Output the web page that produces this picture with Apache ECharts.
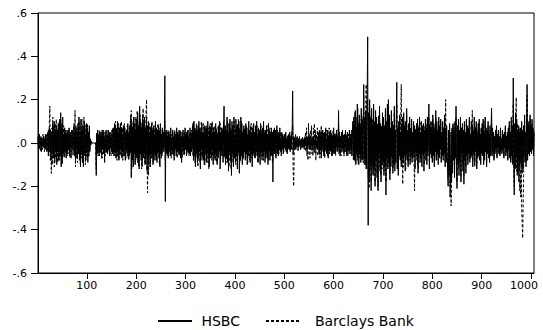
<!DOCTYPE html>
<html><head><meta charset="utf-8">
<script src="https://cdn.jsdelivr.net/npm/echarts@6/dist/echarts.min.js"></script>
<style>html,body{margin:0;padding:0;background:#fff}#c{width:543px;height:330px}#s{position:absolute;left:0;top:0;width:0;height:0;overflow:hidden}</style>
</head><body><div id="c"></div><div id="s"></div>
<script>
var seriesNames = ['HSBC', 'Barclays Bank'];
var xTickStep = 100;   // tick labels 100, 200, ... 1000
var yTicks = [-0.6, -0.4, -0.2, 0, 0.2, 0.4, 0.6];

var hsbc = [
.02,-.03,.01,.04,-.02,-.01,.03,-.04,.02,.00,-.02,.03,-.01,.02,-.03,.04,-.02,.01,-.04,.03,
.05,-.06,.03,.07,-.04,.06,-.08,.02,.04,-.05,.09,-.07,.03,.10,-.09,.05,-.03,.08,-.10,.06,
-.04,.09,-.08,.05,.11,-.06,.14,-.11,.07,-.09,.12,-.05,.03,-.06,.07,-.04,.05,-.07,.02,.06,
-.05,.04,-.03,.07,-.06,.02,.05,-.07,.03,-.02,.06,-.04,.01,.08,-.06,.05,-.08,.07,-.03,.04,
-.07,.09,-.05,.12,-.08,.03,-.10,.11,-.04,.06,-.09,.08,-.11,.05,.10,-.06,.04,-.08,.09,-.03,
.07,-.09,.05,-.06,.08,-.04,.02,-.01,.01,0,0,0,0,0,0,0,0,0,-.15,.04,
-.05,.06,-.03,.04,-.06,.02,.05,-.04,.03,-.07,.06,-.02,.04,-.05,.03,-.09,.05,-.03,.06,-.04,
.02,-.05,.06,-.03,.04,-.06,.05,-.02,.03,-.04,.06,-.05,.02,.07,-.06,.09,-.04,.08,-.07,.05,
-.03,.10,-.06,.04,-.08,.07,-.05,.09,-.02,.06,-.07,.04,-.04,.08,-.06,.03,.07,-.08,.05,-.03,
.06,-.05,.09,-.07,.04,-.06,.08,-.04,.13,-.16,.10,-.08,.07,-.11,.12,-.05,.09,-.10,.06,-.07,
.11,-.06,.14,-.09,.08,-.12,.17,-.05,.10,-.08,.06,-.11,.13,-.07,.09,-.04,.12,-.10,.07,-.06,
.12,-.13,.08,-.09,.10,-.06,.05,-.11,.07,-.04,.09,-.07,.06,-.10,.08,-.05,.04,-.08,.10,-.06,
.07,-.09,.05,-.04,.08,-.07,.06,-.11,.09,-.05,.04,-.06,.07,-.03,.05,-.04,.02,.31,-.27,.05,
-.04,.06,-.05,.03,-.07,.05,-.02,.04,-.06,.07,-.03,.02,-.05,.06,-.04,.03,-.08,.05,-.02,.04,
-.06,.07,-.03,.05,-.04,.02,.06,-.05,.04,-.07,.03,-.09,.05,-.02,.06,-.04,.03,-.05,.07,-.03,
.04,-.06,.05,-.03,.06,-.04,.02,-.05,.07,-.06,.03,-.04,.05,-.02,.09,-.08,.10,-.06,.07,-.11,
.06,-.05,.08,-.09,.04,-.07,.10,-.04,.05,-.12,.07,-.03,.09,-.06,.05,-.08,.04,-.10,.08,-.05,
.06,-.09,.07,-.04,.10,-.06,.03,-.11,.08,-.05,.06,-.07,.09,-.03,.05,-.10,.07,-.06,.04,-.08,
.09,-.05,.06,-.10,.04,-.07,.08,-.03,.10,-.12,.05,-.06,.07,-.04,.06,-.09,.05,.17,-.06,.08,
-.10,.06,-.07,.12,-.09,.05,-.13,.09,-.04,.11,-.08,.06,-.15,.10,-.05,.08,-.11,.12,-.07,.04,
-.09,.11,-.06,.08,-.12,.07,-.04,.10,-.14,.06,-.08,.12,-.05,.09,-.10,.05,-.07,.08,-.04,.06,
-.08,.09,-.05,.07,-.10,.04,-.06,.10,-.03,.06,-.09,.08,-.05,.04,-.11,.07,-.04,.09,-.06,.05,
-.07,.08,-.04,.10,-.06,.03,-.09,.07,-.05,.06,-.10,.09,-.03,.05,-.08,.07,-.06,.10,-.04,.05,
-.09,.06,-.05,.08,-.07,.04,-.10,.09,-.03,.06,-.08,.05,-.06,.07,-.04,.05,-.18,.06,-.05,.07,
-.04,.06,-.07,.03,.08,-.05,.04,-.06,.05,-.03,.07,-.04,.02,-.06,.05,-.03,.04,-.05,.03,-.02,
.04,-.03,.05,-.04,.02,-.05,.03,-.02,.04,-.03,.05,-.04,.02,-.03,.05,.06,.24,-.05,.03,-.02,
.02,-.03,.01,.02,-.01,.03,-.02,.01,-.02,.02,-.01,.01,-.03,.02,-.01,.02,-.02,.01,-.01,.02,
-.02,.03,-.01,.02,-.03,.01,-.02,.02,-.01,.03,-.02,.01,-.03,.02,-.01,.01,-.02,.03,-.01,.02,
-.03,.02,-.01,.03,-.02,.01,-.03,.02,-.02,.04,-.05,.06,-.03,.05,-.07,.04,-.02,.06,-.04,.03,
-.06,.05,-.03,.07,-.04,.02,-.05,.06,-.07,.03,-.02,.05,-.04,.06,-.03,.04,-.06,.02,-.05,.07,
-.03,.04,-.05,.03,-.02,.06,-.04,.03,-.02,.15,-.05,.04,-.06,.03,-.02,.05,-.04,.06,-.03,.02,
-.05,.04,-.02,.06,-.04,.03,-.06,.05,-.03,.02,-.04,.06,-.05,.03,-.02,.04,-.06,.05,.10,-.06,
.12,-.08,.05,.15,-.10,.07,-.04,.18,-.07,.09,-.10,.13,-.05,.08,-.09,.16,-.06,.11,-.08,.09,
.27,-.07,.12,-.10,.15,-.12,.08,.20,.49,-.38,.14,-.18,.20,-.09,.12,-.22,.16,-.11,.08,-.15,
.18,-.12,.10,-.20,.15,-.08,.12,-.16,.07,-.22,.11,-.05,.17,-.13,.09,-.18,.06,-.10,.14,-.08,
.12,-.15,.08,-.11,.16,-.24,.10,-.07,.18,-.12,.20,-.09,.13,-.17,.07,-.11,.15,-.06,.10,-.14,
.08,-.10,.17,-.13,.06,-.09,.12,.28,-.12,.07,-.15,.10,-.06,.13,-.08,.05,-.11,.09,-.07,.12,
-.09,.14,-.06,.08,-.13,.10,-.05,.16,-.08,.06,-.11,.09,-.04,.12,-.10,.07,-.06,.11,-.09,.05,
-.07,.10,-.05,.08,-.12,.06,-.03,.09,-.08,.11,-.14,.07,-.04,.12,-.09,.05,-.06,.10,-.11,.08,
-.05,.09,-.13,.06,-.04,.11,-.08,.07,-.10,.12,-.06,.05,.18,-.12,.08,-.05,.10,-.07,.06,-.09,
.13,-.06,.09,-.11,.07,-.04,.15,-.08,.10,-.05,.06,-.10,.12,-.07,.08,-.03,.11,-.09,.05,-.06,
.10,-.08,.07,-.05,.13,-.11,.06,-.09,.08,-.04,-.12,-.20,.06,-.15,.09,-.25,-.10,.05,-.18,.07,
-.14,.09,-.08,.06,-.16,.10,-.07,.17,-.12,-.21,.08,-.10,.11,-.15,.06,-.09,.12,-.18,.07,-.05,
.09,-.13,.06,-.19,.10,-.08,.05,-.14,.11,-.06,.08,-.10,.07,-.05,.12,-.09,.04,-.07,.10,-.06,
.08,-.11,.06,-.05,.12,-.09,.07,-.04,.10,-.12,.05,-.07,.09,-.06,.11,-.08,.04,-.10,.07,-.05,
.09,-.06,.11,-.10,.05,-.08,.12,-.04,.07,-.11,.06,-.05,.10,-.07,.04,-.09,.08,-.06,.05,.16,
-.06,.07,-.04,.05,-.08,.03,-.05,.06,-.03,.08,-.07,.04,-.02,.06,-.05,.03,-.06,.07,-.04,.02,
-.05,.06,-.03,.04,-.07,.05,-.02,.08,-.06,.03,-.04,.05,-.08,.07,-.03,.10,-.07,.05,-.09,.12,
-.06,.08,-.10,.30,-.08,-.24,.09,-.12,.14,-.07,.11,-.15,.06,-.10,.08,-.13,.05,-.09,.07,-.11,
.10,-.14,.06,-.12,.08,-.06,.13,-.09,.05,-.11,.12,.27,-.08,.10,-.05,.09,-.06,.13,-.04,.08,
-.05,.11,-.03,.07,-.06,.05
];

var barclays = [
.03,-.02,.04,-.03,.01,-.04,.02,.03,-.01,-.03,.04,-.02,.03,-.04,.01,.02,-.03,.04,-.02,.03,
-.04,.06,-.05,.09,.17,-.08,.05,-.14,.07,-.10,.12,-.06,.08,-.11,.04,.09,-.07,.11,-.05,.06,
-.09,.07,-.04,.10,-.08,.05,.11,-.06,.09,-.10,.06,-.04,.08,-.07,.05,-.03,.06,-.05,.04,-.06,
.05,-.03,.06,-.05,.04,-.07,.03,-.04,.06,-.02,.05,-.06,.04,.09,-.05,.15,-.11,.08,-.07,.06,
-.09,.07,-.05,.10,-.06,.08,-.11,.05,-.07,.11,-.04,.06,-.09,.12,-.05,.07,-.10,.08,-.06,.04,
.09,-.07,.05,-.04,.06,-.03,.01,0,0,0,0,0,0,0,0,0,0,0,-.12,.05,
-.04,.05,-.06,.03,-.02,.06,-.05,.04,-.03,.05,-.07,.04,-.03,.06,-.04,.02,-.06,.05,-.02,.03,
-.05,.04,-.03,.06,-.04,.05,-.02,.03,-.06,.04,-.03,.07,-.05,.06,-.04,.08,-.06,.10,-.05,.07,
-.08,.06,-.04,.09,-.07,.05,-.03,.08,-.06,.10,-.04,.07,-.08,.05,-.03,.09,-.06,.04,-.07,.06,
-.04,.08,-.06,.05,-.08,.07,-.03,.10,-.05,.15,-.12,.08,-.06,.09,-.10,.07,-.04,.12,-.08,.06,
-.05,.15,-.09,.07,-.11,.10,-.06,.13,-.04,.09,-.12,.08,-.05,.16,-.07,.10,-.09,.06,-.10,.14,
.20,-.08,-.23,.06,-.15,.09,-.06,.08,-.11,.05,-.07,.10,-.04,.06,-.09,.07,-.05,.08,-.06,.04,
-.08,.06,-.05,.09,-.04,.07,-.10,.05,-.03,.06,-.07,.04,-.05,.06,-.03,.04,-.02,.10,-.08,.03,
-.05,.04,-.06,.05,-.03,.06,-.04,.02,-.05,.03,-.07,.04,-.02,.05,-.06,.03,-.04,.06,-.03,.02,
-.04,.05,-.07,.03,-.05,.04,-.06,.05,-.03,.06,-.04,.02,-.07,.04,-.05,.03,-.06,.05,-.02,.04,
-.03,.05,-.04,.06,-.05,.03,-.06,.04,-.02,.05,-.04,.06,-.03,.08,-.06,.10,-.05,.07,-.09,.06,
-.07,.09,-.05,.06,-.11,.08,-.04,.07,-.09,.05,-.06,.10,-.08,.04,-.07,.09,-.05,.06,-.10,.07,
-.04,.08,-.06,.05,-.09,.07,-.12,.06,-.05,.09,-.07,.04,-.08,.10,-.06,.05,-.04,.08,-.07,.06,
-.05,.07,-.09,.04,-.06,.08,-.05,.06,-.04,.09,-.08,.05,-.03,.07,-.06,.04,.10,-.07,.05,-.06,
.08,-.09,.05,-.06,.10,-.07,.04,-.11,.09,-.05,.07,-.12,.06,-.04,.08,-.09,.05,-.07,.10,-.06,
.07,-.10,.05,-.08,.09,-.06,.11,-.05,.07,-.09,.04,-.07,.10,-.06,.05,-.08,.06,-.05,.07,-.04,
.06,-.07,.08,-.05,.04,-.09,.07,-.04,.05,-.08,.06,-.05,.09,-.07,.04,-.06,.08,-.05,.03,-.07,
.05,-.06,.07,-.04,.08,-.09,.05,-.03,.06,-.07,.04,-.05,.08,-.06,.03,-.04,.07,-.08,.05,-.03,
.06,-.07,.04,-.05,.08,-.06,.03,-.08,.05,-.04,.07,-.05,.04,-.06,.05,-.09,-.07,.04,-.03,.05,
-.05,.04,-.06,.05,-.03,.06,-.04,.03,-.05,.04,-.02,.05,-.04,.03,-.02,.04,-.03,.02,-.04,.03,
-.02,.04,-.03,.02,-.04,.03,-.02,.04,-.03,.02,-.01,.03,-.02,.04,-.03,.05,.08,-.12,-.20,-.07,
.03,-.02,.04,-.03,.01,-.02,.03,-.04,.02,-.01,.03,-.02,.01,-.03,.02,-.01,.03,-.02,.02,-.03,
.02,-.03,.05,-.04,.07,-.06,.03,-.08,.09,-.02,.04,-.07,.06,-.03,.08,-.05,.02,-.06,.07,-.04,
.09,-.05,.06,-.08,.04,-.03,.07,-.06,.05,-.04,.06,-.07,.03,-.05,.08,-.04,.06,-.03,.05,-.06,
.04,-.07,.05,-.03,.06,-.05,.03,-.06,.04,-.02,.07,-.05,.03,-.04,.05,-.06,.04,-.03,.06,-.04,
.03,-.05,.04,-.06,.05,-.02,.03,-.04,.06,.08,-.03,.05,-.04,.02,-.06,.04,-.03,.05,-.02,.04,
-.06,.03,-.04,.05,-.02,.04,-.05,.03,-.06,.04,-.02,.05,-.03,.04,-.05,.06,-.04,.03,.07,-.08,
.10,-.06,.14,-.09,.07,-.05,.12,-.08,.16,-.10,.06,-.07,.11,-.04,.09,-.08,.13,-.06,.10,-.09,
.22,-.10,.08,-.06,.14,.27,-.12,.18,.20,-.16,.10,-.21,.15,-.12,.09,-.18,.13,-.08,.11,-.14,
.16,-.10,.08,-.18,.12,-.06,.10,-.14,.09,-.20,.13,-.07,.15,-.11,.06,-.15,.08,-.12,.11,-.09,
.10,-.13,.07,-.09,.13,-.18,.08,-.06,.15,-.11,.17,-.08,.11,-.14,.06,-.10,.13,-.07,.09,-.12,
.07,-.09,.14,-.10,.05,-.08,.10,.18,-.11,.06,-.12,.09,-.05,.11,-.07,.08,.27,-.10,.06,-.19,
.12,-.11,.07,-.06,.10,-.12,.05,.13,-.07,.05,-.09,.08,-.05,.10,-.08,.06,-.04,.09,-.07,.04,
-.06,.08,-.10,-.22,.05,-.04,.07,-.06,.09,-.10,.06,-.12,.08,-.05,.10,-.07,.04,-.09,.06,-.05,
.07,-.06,.05,-.10,.08,-.04,.06,-.08,.09,-.05,.07,-.03,.12,-.09,.06,-.04,.08,-.06,.10,-.07,
.11,-.05,.08,-.09,.06,-.03,.12,-.07,.08,-.04,.05,-.08,.10,-.06,.07,-.02,.09,-.07,.04,-.05,
.08,-.06,.05,-.04,.10,-.09,.20,-.07,.06,-.03,-.10,-.17,.05,-.12,.07,-.20,-.14,-.29,-.15,.06,
-.12,.08,-.06,.05,-.13,.09,-.05,.12,-.10,-.18,.06,-.08,.09,-.12,.05,-.07,.10,-.15,.06,-.04,
.07,-.10,.05,-.15,.08,-.06,.04,-.11,.09,-.05,.06,-.08,.05,-.04,.10,-.07,.03,-.06,.08,-.05,
.15,-.08,.05,-.04,.09,-.11,.06,-.03,.08,-.10,.04,-.06,.07,-.05,.09,-.07,.03,-.08,.06,-.04,
.07,-.05,.09,-.08,.04,-.06,.10,-.03,.06,-.09,.05,-.04,.08,-.06,.03,-.07,.06,-.05,.04,.12,
-.05,.06,-.03,.04,-.07,.02,-.04,.05,-.02,.07,-.06,.03,-.02,.05,-.04,.02,-.05,.06,-.03,.02,
-.04,.05,-.02,.03,-.06,.04,-.02,.07,-.05,.02,-.03,.04,-.07,.06,-.02,.08,-.06,.04,-.08,.10,
-.05,.07,-.09,.18,-.07,-.20,.08,-.10,.12,.21,-.13,.09,-.14,.05,-.18,.07,-.22,-.12,-.25,.04,
-.30,-.36,-.44,-.28,-.15,.06,.10,-.08,.04,-.09,.10,.22,-.06,.08,-.04,.07,-.05,.11,-.03,.06,
-.04,.09,-.02,.06,-.05,.04
];

var status = document.getElementById('s');
window.onerror = function (m) { status.textContent = String(m); };

var nObs = Math.max(hsbc.length, barclays.length);
var categories = [];
for (var i = 1; i <= nObs; i++) categories.push(String(i));
function isTick(idx) { return (idx + 1) % xTickStep === 0; }
var lastTickLabel = String(Math.floor(nObs / xTickStep) * xTickStep);

try {
var chart = echarts.init(document.getElementById('c'), null, { renderer: 'svg' });
var font = 'DejaVu Sans';
var legendCommon = {
  top: 314, padding: 0, itemHeight: 14,
  itemStyle: { opacity: 0, color: 'rgba(0,0,0,0)', borderWidth: 0 },
  textStyle: { fontFamily: font, fontSize: 14, color: '#000' }
};
chart.setOption({
  animation: false,
  grid: { left: 38, right: 9, top: 13, bottom: 57, show: true, borderColor: '#000', borderWidth: 1, outerBoundsMode: 'none' },
  legend: [
    Object.assign({}, legendCommon, { data: [seriesNames[0]], left: 157, itemWidth: 34, formatter: ' {name}' }),
    Object.assign({}, legendCommon, { data: [seriesNames[1]], left: 265, itemWidth: 35, formatter: '  {name}' })
  ],
  xAxis: {
    type: 'category', data: categories, boundaryGap: false,
    axisLine: { show: true, onZero: false, lineStyle: { color: '#000', width: 1 } },
    axisTick: { show: true, length: 6, interval: function (idx) { return isTick(idx); }, lineStyle: { color: '#000' } },
    axisLabel: {
      interval: function (idx) { return isTick(idx); }, margin: 7, color: '#000', fontFamily: font, fontSize: 11,
      formatter: function (val) { return val === lastTickLabel ? '{r|' + val + '}' : val; },
      rich: { r: { padding: [0, 14, 0, 0], color: '#000', fontFamily: font, fontSize: 11 } }
    }
  },
  yAxis: {
    type: 'value', min: yTicks[0], max: yTicks[yTicks.length - 1], interval: 0.2,
    axisLine: { show: true, onZero: false, lineStyle: { color: '#000', width: 1 } },
    axisTick: { show: true, length: 7, lineStyle: { color: '#000' } },
    axisLabel: {
      margin: 11, color: '#000', fontFamily: font, fontSize: 11,
      formatter: function (v) { var s = (Math.round(v * 10) / 10).toFixed(1); return s.replace('0.', '.'); }
    },
    splitLine: { show: false }
  },
  series: [
    { name: seriesNames[1], type: 'line', data: barclays, showSymbol: false, symbol: 'none', progressive: 0,
      lineStyle: { color: '#000', width: 1, type: [3, 2] }, itemStyle: { color: '#000' } },
    { name: seriesNames[0], type: 'line', data: hsbc, showSymbol: false, symbol: 'none', progressive: 0,
      lineStyle: { color: '#000', width: 1, type: 'solid' }, itemStyle: { color: '#000' } }
  ]
});
var rect = chart.getModel().getComponent('grid').coordinateSystem.getRect();
status.textContent = rect ? '' : '';
} catch (e) { status.textContent = e.message; }
</script>
</body></html>
